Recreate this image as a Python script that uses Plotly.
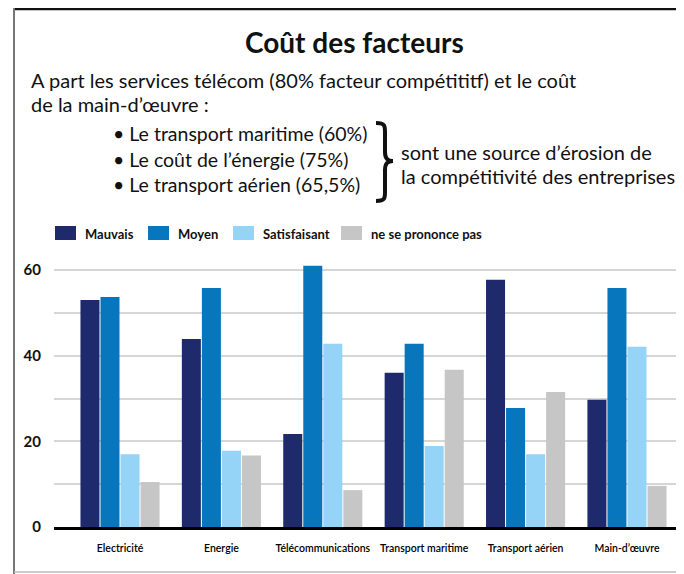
import plotly.graph_objects as go

categories = ["Electricité", "Energie", "Télécommunications", "Transport maritime", "Transport aérien", "Main-d\u2019œuvre"]
series_names = ["Mauvais", "Moyen", "Satisfaisant", "ne se prononce pas"]
mauvais = [53.0, 43.9, 21.7, 36.0, 57.7, 29.7]
moyen = [53.7, 55.8, 61.0, 42.8, 27.8, 55.8]
satisfaisant = [17.0, 17.8, 42.8, 18.9, 17.0, 42.1]
ne_se_prononce_pas = [10.5, 16.7, 8.6, 36.7, 31.5, 9.6]
y_tick_vals = [0, 10, 20, 30, 40, 50, 60]
y_tick_text = ["0", "", "20", "", "40", "", "60"]

title_text = "Coût des facteurs"
intro_lines = ["A part les services télécom (80% facteur compétititf) et le coût", "de la main-d\u2019œuvre :"]
bullet_lines = ["\u2022 Le transport maritime (60%)", "\u2022 Le coût de l\u2019énergie (75%)", "\u2022 Le transport aérien (65,5%)"]
right_lines = ["sont une source d\u2019érosion de", "la compétitivité des entreprises"]

colors = ["#1e2a6c", "#0776bc", "#95d4f6", "#c6c6c6"]
values = [mauvais, moyen, satisfaisant, ne_se_prononce_pas]

# page has an 8px body margin: work in page pixels, convert to figure pixels
OFF = 8
W, H = 684 - OFF, 574 - OFF
PL, PR, PT, PB = 54, 680, 261, 527  # plot area in page pixels
ML, MR, MT, MB = PL - OFF, W - (PR - OFF), PT - OFF, H - (PB - OFF)
PW, PH = W - ML - MR, H - MT - MB


def px(x):
    return (x - PL) / PW


def py(y):
    return (PB - y) / PH


x_idx = list(range(len(categories)))
fig = go.Figure()
for name, vals, col in zip(series_names, values, colors):
    fig.add_trace(go.Bar(x=x_idx, y=vals, name=name, marker=dict(color=col, line=dict(width=0)),
                         showlegend=False))

narrow = "Lato, Open Sans, sans-serif"
body = "Lato, Open Sans, sans-serif"

fig.update_layout(
    width=W, height=H,
    margin=dict(l=ML, r=MR, t=MT, b=MB),
    paper_bgcolor="white", plot_bgcolor="white",
    barmode="group", bargap=0.21, bargroupgap=0.05,
    xaxis=dict(range=[-0.651, 5.523], tickvals=x_idx, ticktext=categories, showgrid=False,
               showline=True, linecolor="black", linewidth=3, ticks="", zeroline=False,
               tickfont=dict(family=narrow, size=10.5, color="#000", weight=600), ticklabelstandoff=9),
    yaxis=dict(range=[0, PH / 4.283], tickvals=y_tick_vals, ticktext=y_tick_text, showgrid=True,
               gridcolor="#d6d6d6", gridwidth=2, zeroline=False, showline=False, ticks="",
               tickfont=dict(family=narrow, size=15, color="#111", weight="bold"), ticklabelstandoff=12),
)

ann = []
shapes = []
ann.append(dict(text=title_text, x=px(354), y=py(42), xref="paper", yref="paper", xanchor="center",
                yanchor="middle", showarrow=False, font=dict(family=body, size=28, color="#111", weight="bold")))
for i, t in enumerate(intro_lines):
    ann.append(dict(text=t, x=px(29), y=py(80 + 24 * i), xref="paper", yref="paper", xanchor="left",
                    yanchor="middle", showarrow=False, font=dict(family=body, size=20, color="#111")))
for i, t in enumerate(bullet_lines):
    ann.append(dict(text=t, x=px(111), y=py(134 + 25 * i), xref="paper", yref="paper", xanchor="left",
                    yanchor="middle", showarrow=False, font=dict(family=body, size=19.5, color="#111")))
for i, t in enumerate(right_lines):
    ann.append(dict(text=t, x=px(399), y=py(152 + 24 * i), xref="paper", yref="paper", xanchor="left",
                    yanchor="middle", showarrow=False, font=dict(family=body, size=20, color="#111")))

# curly brace
pts = "M {a},{b} C {c},{d} {e},{f} {e},{g} L {e},{h} C {e},{i} {j},{k} {l},{k} C {j},{k} {e},{m} {e},{n} L {e},{o} C {e},{p} {c},{q} {a},{r}".format(
    a=px(376), b=py(123), c=px(385), d=py(123), e=px(385), f=py(126), g=py(132),
    h=py(152), i=py(158), j=px(387), k=py(161), l=px(393), m=py(164), n=py(170),
    o=py(192), p=py(198), q=py(201), r=py(201))
shapes.append(dict(type="path", path=pts, xref="paper", yref="paper", line=dict(color="#111", width=4)))

# legend
leg_sq = [55, 148, 233, 341]
for name, col, xs in zip(series_names, colors, leg_sq):
    shapes.append(dict(type="rect", x0=px(xs), x1=px(xs + 21), y0=py(226), y1=py(240), xref="paper",
                       yref="paper", fillcolor=col, line=dict(width=0)))
    ann.append(dict(text=name, x=px(xs + 28), y=py(234), xref="paper", yref="paper", xanchor="left",
                    yanchor="middle", showarrow=False, font=dict(family=narrow, size=13, color="#111", weight="bold")))

# frame
shapes.append(dict(type="line", x0=px(14), x1=px(690), y0=py(9), y1=py(9), xref="paper", yref="paper",
                   line=dict(color="#111", width=2.5)))
shapes.append(dict(type="line", x0=px(14), x1=px(14), y0=py(8), y1=py(580), xref="paper", yref="paper",
                   line=dict(color="#777", width=2)))
shapes.append(dict(type="line", x0=px(14), x1=px(690), y0=py(572), y1=py(572), xref="paper", yref="paper",
                   line=dict(color="#bbb", width=1.5)))

fig.update_layout(annotations=ann, shapes=shapes)
fig.write_html("out.html")
